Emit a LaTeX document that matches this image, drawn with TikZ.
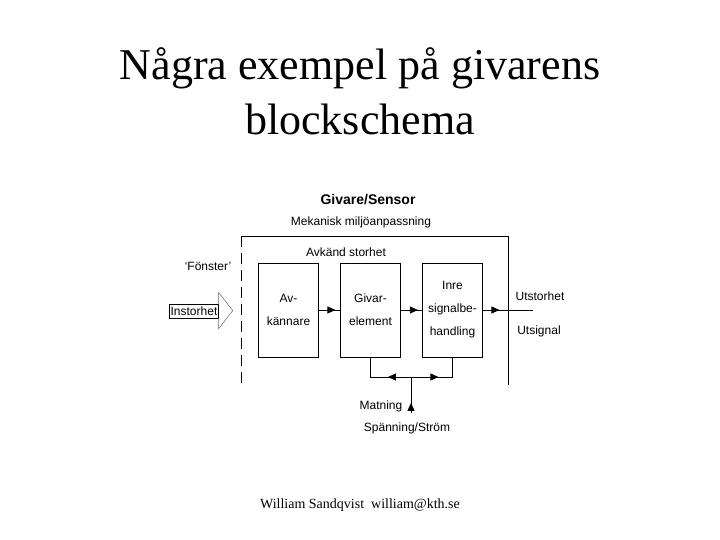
\documentclass[tikz,border=0pt]{standalone}
\usepackage{fontspec}
\setmainfont{Liberation Serif}
\setsansfont{Liberation Sans}
\usetikzlibrary{arrows.meta, decorations.markings, positioning}

\tikzset{midarrow/.style={decoration={markings,
      mark=at position #1 with {\arrow{Triangle[length=8pt,width=7pt]}}},
    postaction={decorate}},
  midarrow/.default=0.5}

\begin{document}
\begin{tikzpicture}[x=1pt,y=-1pt,node distance=82pt,on grid,line width=0.8pt,
    font=\sffamily\fontsize{12}{14}\selectfont]
  \tikzstyle{block}=[draw, minimum width=60pt, minimum height=94pt, align=center,
    font=\sffamily\fontsize{12}{23}\selectfont]
  \tikzstyle{rubrik}=[anchor=base, font=\rmfamily\fontsize{44}{55}\selectfont]
  \tikzstyle{pilhuvud}=[draw=black!60, line width=0.5pt]

  \useasboundingbox (0,0) rectangle (720,540);

  % rubrik
  \node[rubrik] (rad1) at (360,80) {Några exempel på givarens};
  \node[rubrik] (rad2) at (360,135) {blockschema};

  % givaren
  \node[font=\sffamily\bfseries\fontsize{14}{16}\selectfont] (givare) at (368,200) {Givare/Sensor};
  \node (miljo) at (361,222) {Mekanisk miljöanpassning};
  \node (avkand) at (346,252) {Avkänd storhet};
  \node (fonster) at (208,266) {`Fönster'};

  \draw (241,236) -- (508,236) -- (508,385);
  \draw[dash pattern=on 11pt off 6pt] (241,236) -- (241,385);

  \node[block] (av) at (288.5,310) {Av-\\kännare};
  \node[block, right of=av] (givar) {Givar-\\element};
  \node[block, right of=givar] (inre) {Inre\\signalbe-\\handling};

  % insignal
  \node[draw, minimum height=14pt, inner xsep=1pt, inner ysep=0.5pt] (instorhet) at (194,311) {Instorhet};
  \draw[pilhuvud] (instorhet.north east) -- ++(0,-11) -- ++(14,18) -- ++(-14,18) -- ++(0,-11);

  \coordinate (ut) at (533,310);
  \node (utstorhet) at (540,296) {Utstorhet};
  \node (utsignal) at (539,331) {Utsignal};

  \path[draw]
  (av) edge[midarrow=0.78] (givar)
  (givar) edge[midarrow=0.8] (inre)
  (inre) edge[midarrow=0.33] (ut);

  % matning
  \coordinate (matn) at (411,377);
  \coordinate (spann) at (411,413);
  \draw (givar.south) -- (givar.south |- matn) -- (inre.south |- matn) -- (inre.south);
  \draw[midarrow=0.57] (matn) -- (givar.south |- matn);
  \draw[midarrow=0.66] (matn) -- (inre.south |- matn);
  \draw[midarrow=0.28] (spann) -- (matn);
  \node (matning) at (381,406) {Matning};
  \node (spanning) at (407,428) {Spänning/Ström};

  \node[anchor=base, font=\rmfamily\fontsize{14}{16}\selectfont] (fot) at (360,508) {William Sandqvist\ \ william@kth.se};
\end{tikzpicture}
\end{document}
